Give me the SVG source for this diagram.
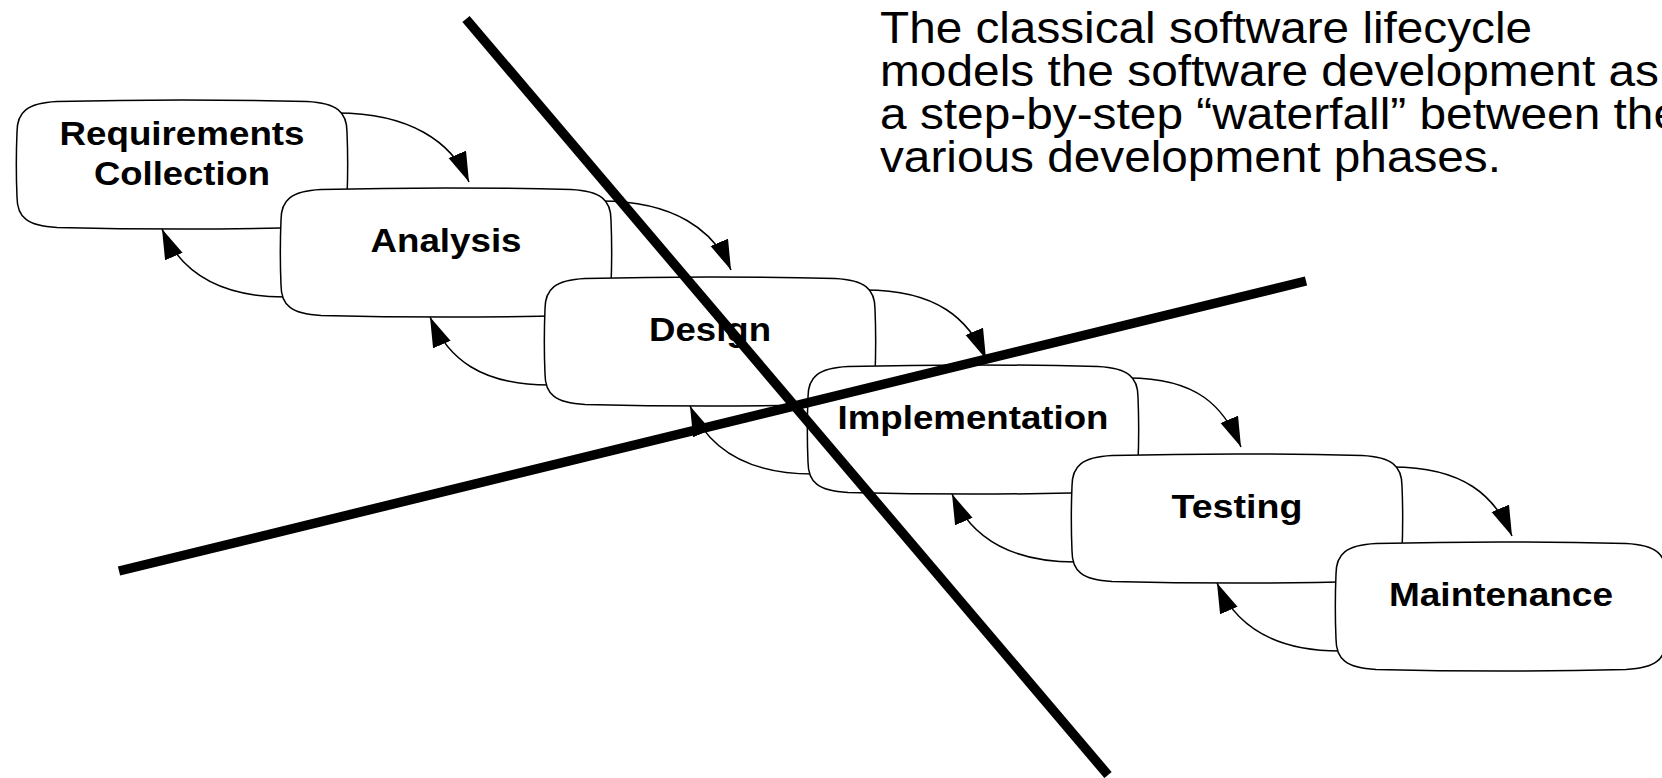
<svg xmlns="http://www.w3.org/2000/svg" width="1662" height="778" viewBox="0 0 1662 778">
<style>
.box{fill:#fff;stroke:#000;stroke-width:1.5}
.lbl{font-family:"Liberation Sans",Arial,Helvetica,sans-serif;font-weight:bold;font-size:34px;fill:#000;text-anchor:middle}
.para{font-family:"Liberation Sans",Arial,Helvetica,sans-serif;font-size:44px;fill:#000}
.conn{fill:none;stroke:#000;stroke-width:1.5;marker-end:url(#arrow)}
.bar{stroke:#000;stroke-width:9.5;stroke-linecap:butt}
</style>
<defs>
<path id="box" class="box" d="M0,32 C0,12 10,3 40,1.5 C120,-0.5 210,-0.5 290,1.5 C320,3 330,12 330,32 C331,56 331,73 330,97 C330,117 320,126 290,127.5 C210,129.5 120,129.5 40,127.5 C10,126 0,117 0,97 C-1,73 -1,56 0,32 Z"/>
<marker id="arrow" markerUnits="userSpaceOnUse" markerWidth="34" markerHeight="22" refX="30" refY="9.5" orient="auto">
<path d="M0,0 L30,9.5 L0,19 Z" fill="#000"/>
</marker>
</defs>
<rect width="1662" height="778" fill="#fff"/>
<g id="connectors">
<path class="conn" d="M337,113 C410,113 452,142 469,182"/>
<path class="conn" d="M601,201 C674,201 714,230 731,270"/>
<path class="conn" d="M865,290 C937,290 969,319 986,359"/>
<path class="conn" d="M1128,378 C1198,378 1224,407 1241,447"/>
<path class="conn" d="M1392,467 C1464,467 1495,496 1512,536"/>
<path class="conn" d="M285,297 C217,297 180,271 162,229"/>
<path class="conn" d="M549,385 C481,385 448,359 430,317"/>
<path class="conn" d="M813,474 C745,474 708,448 690,406"/>
<path class="conn" d="M1076,562 C1008,562 970,536 952,494"/>
<path class="conn" d="M1340,651 C1272,651 1235,625 1217,583"/>
</g>
<g id="requirements">
<use href="#box" x="17" y="100"/>
<text class="lbl" x="182" y="145" textLength="245" lengthAdjust="spacingAndGlyphs">Requirements</text>
<text class="lbl" x="182" y="185" textLength="176" lengthAdjust="spacingAndGlyphs">Collection</text>
</g>
<g id="analysis">
<use href="#box" x="281" y="188"/>
<text class="lbl" x="446" y="252" textLength="151" lengthAdjust="spacingAndGlyphs">Analysis</text>
</g>
<g id="design">
<use href="#box" x="545" y="277"/>
<text class="lbl" x="710" y="341" textLength="122" lengthAdjust="spacingAndGlyphs">Design</text>
</g>
<g id="implementation">
<use href="#box" x="808" y="365"/>
<text class="lbl" x="973" y="429" textLength="271" lengthAdjust="spacingAndGlyphs">Implementation</text>
</g>
<g id="testing">
<use href="#box" x="1072" y="454"/>
<text class="lbl" x="1237" y="518" textLength="131" lengthAdjust="spacingAndGlyphs">Testing</text>
</g>
<g id="maintenance">
<use href="#box" x="1336" y="542"/>
<text class="lbl" x="1501" y="606" textLength="224" lengthAdjust="spacingAndGlyphs">Maintenance</text>
</g>
<g id="dividers">
<line class="bar" x1="466" y1="19" x2="1108" y2="775"/>
<line class="bar" x1="119" y1="571" x2="1306" y2="281"/>
</g>
<g id="caption">
<text class="para" x="880" y="43" textLength="652" lengthAdjust="spacingAndGlyphs">The classical software lifecycle</text>
<text class="para" x="880" y="86" textLength="779" lengthAdjust="spacingAndGlyphs">models the software development as</text>
<text class="para" x="880" y="129" textLength="800" lengthAdjust="spacingAndGlyphs">a step-by-step “waterfall” between the</text>
<text class="para" x="880" y="172" textLength="621" lengthAdjust="spacingAndGlyphs">various development phases.</text>
</g>
</svg>
